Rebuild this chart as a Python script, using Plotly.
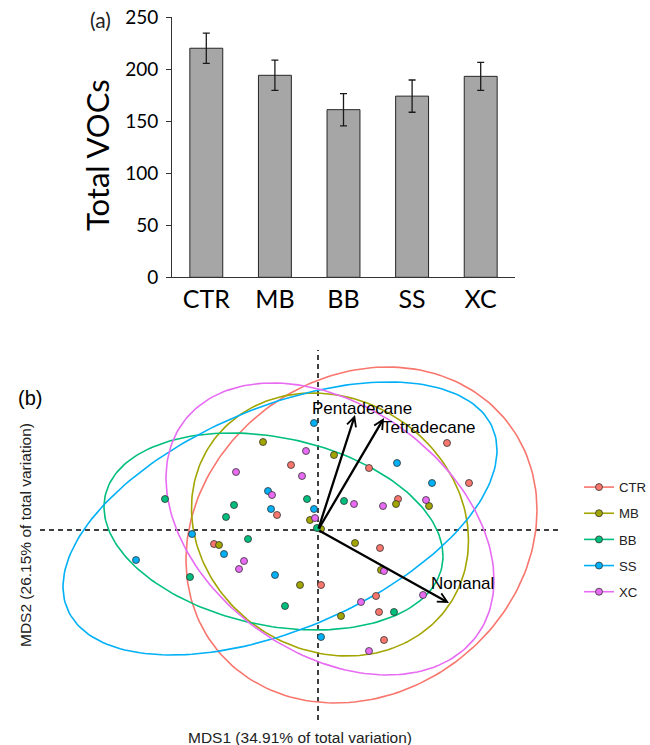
import numpy as np
import plotly.graph_objects as go

# ---------------- panel (a) data ----------------
bar_categories = ["CTR", "MB", "BB", "SS", "XC"]
bar_values = [220, 194, 161, 174, 193]
bar_errors = [14.5, 14.5, 15.5, 15.5, 13.5]
bar_ticks = [0, 50, 100, 150, 200, 250]

# ---------------- panel (b) data ----------------
groups = ["CTR", "MB", "BB", "SS", "XC"]
group_colors = ["#F8766D", "#A3A500", "#00BF7D", "#00B0F6", "#E76BF3"]

ctr_x = [-0.27, -0.41, 1.29, 0.51, 1.51, 0.80, -1.04, 0.03, 0.62, 0.58, 0.61, 0.66]
ctr_y = [0.65, 0.15, 0.87, 0.62, 0.47, 0.31, -0.14, -0.55, -0.18, -0.66, -0.82, -1.10]
mb_x = [-0.55, -0.08, 0.16, 0.78, 1.11, 0.03, -0.99, -0.18, 0.37, 0.63, 0.23]
mb_y = [0.88, 0.10, 0.75, 0.26, 0.24, 0.01, -0.15, -0.55, -0.13, -0.40, -0.86]
bb_x = [-1.53, -0.11, -0.84, -0.92, 0.26, -0.01, -0.70, -1.28, -0.33, 0.76]
bb_y = [0.31, 0.31, 0.25, 0.13, 0.29, 0.02, -0.09, -0.47, -0.76, -0.82]
ss_x = [-0.04, -0.50, -0.47, -0.04, 0.79, 1.14, -1.26, -0.94, -1.82, -0.43, 0.03]
ss_y = [1.07, 0.39, 0.21, 0.21, 0.67, 0.47, -0.04, -0.24, -0.30, -0.45, -1.07]
xc_x = [-0.12, -0.82, -0.16, -0.46, -0.03, 0.36, 0.65, 1.08, -0.74, -0.79, 0.66, 0.43, 1.05, 0.51]
xc_y = [0.79, 0.58, 0.54, 0.35, 0.12, 0.26, 0.24, 0.30, -0.31, -0.39, -0.41, -0.72, -0.65, -1.21]

# ellipse parameters per group: centre x, centre y, half-width, half-height, correlation
ell_cx = [0.435, 0.12, -0.445, -0.38, 0.12]
ell_cy = [-0.05, 0.055, -0.015, 0.115, 0.01]
ell_sx = [1.755, 1.385, 1.695, 2.17, 1.64]
ell_sy = [1.68, 1.315, 0.985, 1.365, 1.46]
ell_r = [0.148, -0.123, -0.25, 0.50, -0.35]

# loading vectors
vec_names = ["Pentadecane", "Tetradecane", "Nonanal"]
vec_x = [0.37, 0.66, 1.31]
vec_y = [1.15, 1.12, -0.73]
vec_label_x = [0.44, 1.11, 1.44]
vec_label_y = [1.22, 1.03, -0.53]

W, H = 650, 745


def px(x):
    return x / W


def py(y):
    return 1 - y / H


fig = go.Figure()

# ---------------- panel (a) ----------------
fig.add_trace(go.Bar(
    x=bar_categories, y=bar_values, width=0.48,
    marker=dict(color="#A6A6A6", line=dict(color="#262626", width=1)),
    error_y=dict(type="data", array=bar_errors, color="#1a1a1a", thickness=1.3, width=3.5),
    xaxis="x", yaxis="y", showlegend=False,
))

# ---------------- panel (b) ----------------
pts_x = [ctr_x, mb_x, bb_x, ss_x, xc_x]
pts_y = [ctr_y, mb_y, bb_y, ss_y, xc_y]

t = np.linspace(0, 2 * np.pi, 200)
for i, g in enumerate(groups):
    ex = ell_cx[i] + ell_sx[i] * np.cos(t)
    ey = ell_cy[i] + ell_sy[i] * (ell_r[i] * np.cos(t) + np.sqrt(1 - ell_r[i] ** 2) * np.sin(t))
    fig.add_trace(go.Scatter(
        x=ex, y=ey, mode="lines", line=dict(color=group_colors[i], width=1.6),
        xaxis="x2", yaxis="y2", showlegend=False, hoverinfo="skip",
    ))

for i, g in enumerate(groups):
    fig.add_trace(go.Scatter(
        x=pts_x[i], y=pts_y[i], mode="markers", name=g,
        marker=dict(color=group_colors[i], size=7, line=dict(color="#333333", width=0.8)),
        xaxis="x2", yaxis="y2", showlegend=False,
    ))

# legend entries (point + line key, like ggplot)
for i, g in enumerate(groups):
    fig.add_trace(go.Scatter(
        x=[None], y=[None], mode="lines+markers", name=g, legendgroup=g,
        marker=dict(color=group_colors[i], size=7, line=dict(color="#333333", width=0.8)),
        line=dict(color=group_colors[i], width=1.6),
        xaxis="x2", yaxis="y2", showlegend=True,
    ))

annotations = []
# arrows
for i, n in enumerate(vec_names):
    annotations.append(dict(
        x=vec_x[i], y=vec_y[i], ax=0, ay=0, xref="x2", yref="y2", axref="x2", ayref="y2",
        showarrow=True, arrowhead=5, arrowsize=0.8, arrowwidth=2.3, arrowcolor="black", text="",
    ))
    annotations.append(dict(
        x=vec_label_x[i], y=vec_label_y[i], xref="x2", yref="y2", text=n, showarrow=False,
        xanchor="center", yanchor="middle",
        font=dict(family="Liberation Sans, Arial", size=17, color="black"),
    ))


def paper_text(x, y, text, size, family, angle=0, color="black"):
    return dict(x=px(x), y=py(y), xref="paper", yref="paper", text=text, showarrow=False,
                xanchor="center", yanchor="middle", textangle=angle,
                font=dict(family=family, size=size, color=color))


annotations += [
    paper_text(100, 20, "(a)", 21, "Lato, Noto Sans", color="#222"),
    paper_text(97, 155, "Total VOCs", 31, "Lato, Noto Sans", angle=-90),
    paper_text(30, 398, "(b)", 20, "Liberation Sans, Arial"),
    paper_text(300, 737, "MDS1 (34.91% of total variation)", 15.5, "Liberation Sans, Arial", color="#222"),
    paper_text(25, 535, "MDS2 (26.15% of total variation)", 15.5, "Liberation Sans, Arial", angle=-90, color="#222"),
]

shapes = [
    dict(type="line", xref="x2 domain", yref="y2", x0=0, x1=1, y0=0, y1=0,
         line=dict(color="black", width=1.5, dash="5px,4px"), layer="below"),
    dict(type="line", xref="x2", yref="y2 domain", x0=0, x1=0, y0=0, y1=1,
         line=dict(color="black", width=1.5, dash="5px,4px"), layer="below"),
]

fig.update_layout(
    width=W, height=H, margin=dict(l=0, r=0, t=0, b=0, pad=0, autoexpand=False),
    paper_bgcolor="white", plot_bgcolor="white",
    xaxis=dict(domain=[px(172), px(515)], range=[-0.5, 4.5], showline=True, linecolor="#333",
               linewidth=1, ticks="", showgrid=False, zeroline=False, automargin=False,
               ticklabeloverflow="allow",
               tickfont=dict(family="Lato, Noto Sans", size=25, color="black")),
    yaxis=dict(domain=[py(277.3), py(17)], range=[0, 250], tickvals=bar_ticks, showline=True,
               linecolor="#333", linewidth=1, ticks="outside", ticklen=5, tickcolor="#333",
               showgrid=False, zeroline=False, ticklabelstandoff=4, automargin=False,
               ticklabeloverflow="allow",
               tickfont=dict(family="Lato, Noto Sans", size=19, color="black")),
    xaxis2=dict(domain=[px(40), px(558)], range=[-2.78, 2.40], visible=False),
    yaxis2=dict(domain=[py(720), py(350)], range=[-1.90, 1.80], visible=False),
    legend=dict(x=px(579), y=py(472), xanchor="left", yanchor="top", tracegroupgap=6,
                font=dict(family="Liberation Sans, Arial", size=13.2, color="#222"),
                bgcolor="rgba(0,0,0,0)"),
    annotations=annotations, shapes=shapes,
)

# remove the browser's default 8px page margin so the figure fills the window exactly
fig.write_html("out.html", config={"displayModeBar": False},
               post_script="document.body.style.margin='0px';")
